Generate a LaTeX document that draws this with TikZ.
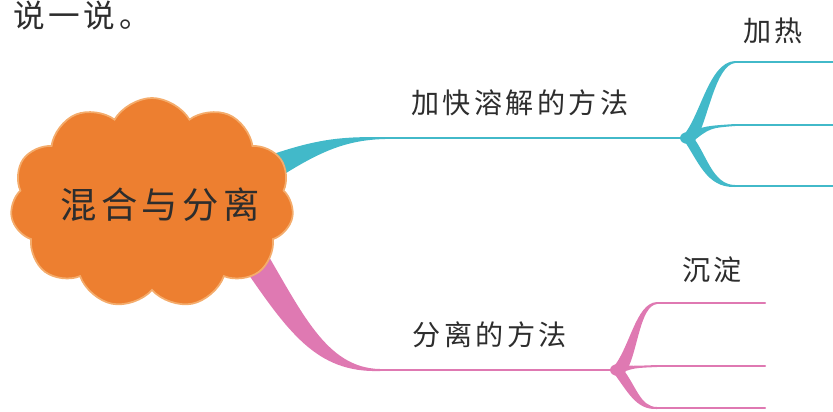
\documentclass[tikz,border=0pt]{standalone}
\usepackage{fontspec}
\newfontfamily\cjk[LetterSpace=12]{Noto Sans CJK SC}
\usepackage{xcolor}
\definecolor{ColHub}{RGB}{237,127,48}
\definecolor{ColRim}{RGB}{244,172,108}
\definecolor{ColA}{RGB}{66,185,201}
\definecolor{ColB}{RGB}{223,121,178}
\definecolor{ColTxt}{RGB}{45,45,45}
\usetikzlibrary{shapes.symbols}
\tikzstyle{Hub}=[cloud,cloud puffs=11,cloud puff arc=120,aspect=1.35,
draw=ColRim,line width=1.5pt,fill=ColHub,inner sep=0pt,
minimum width=8.5cm,minimum height=6.3cm]
\tikzstyle{Label}=[text=ColTxt,inner sep=0pt,font=\cjk\fontsize{24}{28}\selectfont]
\tikzstyle{LineA}=[draw=ColA,line width=1.8pt,line cap=round]
\tikzstyle{LineB}=[draw=ColB,line width=1.8pt,line cap=round]

\begin{document}
\begin{tikzpicture}[x=0.03cm,y=-0.03cm]
        \useasboundingbox (0,0) rectangle (833,411);
        \node[Label,font=\cjk\fontsize{27}{30}\selectfont](title)at(82,16){说一说。};
        % upper branch
        \coordinate(a0)at(385,138);
        \coordinate(fa)at(688,138);
        \coordinate(a1)at(735,62);
        \coordinate(a2)at(735,125);
        \coordinate(a3)at(735,186);
        \coordinate(e1)at(840,62);
        \coordinate(e2)at(840,125);
        \coordinate(e3)at(840,186);
        \fill[ColA](262,158) .. controls (320,137) and (345,137) .. (385,137)
            -- (385,139) .. controls (345,140) and (318,152) .. (272,182) -- cycle;
        \draw[LineA](a0)--(fa);
        \fill[ColA](681,138) .. controls (700,120) and (708,62) .. (735,61)
            -- (735,63) .. controls (716,65) and (708,118) .. (697,138) -- cycle;
        \fill[ColA](688,133) .. controls (705,126) .. (735,124)
            -- (735,126) .. controls (710,128) .. (692,142) -- cycle;
        \fill[ColA](692,136) .. controls (706,152) and (712,185) .. (735,185)
            -- (735,187) .. controls (706,188) and (698,160) .. (683,139) -- cycle;
        \fill[ColA](fa) ellipse (8 and 6);
        \draw[LineA](a1)--(e1);
        \draw[LineA](a2)--(e2);
        \draw[LineA](a3)--(e3);
        % lower branch
        \coordinate(b0)at(380,370);
        \coordinate(fb)at(618,370);
        \coordinate(b1)at(657,303);
        \coordinate(b2)at(657,366);
        \coordinate(b3)at(657,408);
        \coordinate(g1)at(765,303);
        \coordinate(g2)at(765,366);
        \coordinate(g3)at(765,408);
        \fill[ColB](262,245) .. controls (302,312) and (326,368) .. (380,369)
            -- (380,371) .. controls (316,373) and (288,332) .. (240,262) -- cycle;
        \draw[LineB](b0)--(fb);
        \fill[ColB](611,370) .. controls (630,350) and (635,303) .. (657,302)
            -- (657,304) .. controls (640,306) and (638,350) .. (627,370) -- cycle;
        \fill[ColB](618,365) .. controls (632,366) .. (657,365)
            -- (657,367) .. controls (634,368) .. (620,373) -- cycle;
        \fill[ColB](622,368) .. controls (636,385) and (640,407) .. (657,407)
            -- (657,409) .. controls (636,410) and (628,392) .. (613,372) -- cycle;
        \fill[ColB](fb) ellipse (8 and 6);
        \draw[LineB](b1)--(g1);
        \draw[LineB](b2)--(g2);
        \draw[LineB](b3)--(g3);
        % hub
        \node[Hub](hub)at(152,203){};
        \node[Label,font=\cjk\fontsize{31}{34}\selectfont](hubtxt)at(160,205){混合与分离};
        % labels
        \node[Label](speed)at(520,103){加快溶解的方法};
        \node[Label](heat)at(773,31){加热};
        \node[Label](sep)at(490,335){分离的方法};
        \node[Label](settle)at(712,270){沉淀};
\end{tikzpicture}
\end{document}
